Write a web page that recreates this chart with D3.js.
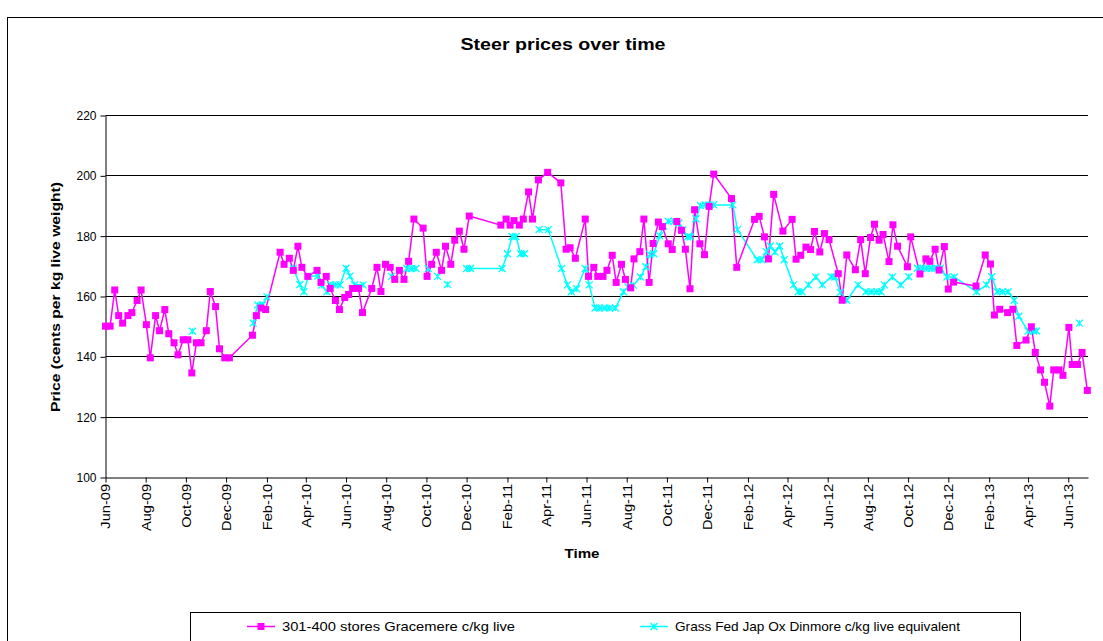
<!DOCTYPE html>
<html>
<head>
<meta charset="utf-8">
<script src="https://cdn.jsdelivr.net/npm/d3@7"></script>
<style>
  body { margin: 0; background: #fff; }
  text { font-family: "Liberation Sans", Arial, sans-serif; fill: #000; }
</style>
</head>
<body>
<div id="chart"></div>
<script>
// 301-400 stores Gracemere c/kg live
var gracemere = [
  ["2009-06-01",150],["2009-06-08",150],["2009-06-15",162],["2009-06-21",153.5],["2009-06-27",151],
  ["2009-07-05",153.5],["2009-07-11",154.5],["2009-07-19",158.5],["2009-07-25",162],["2009-08-02",150.5],
  ["2009-08-08",139.5],["2009-08-16",153.5],["2009-08-22",148.5],["2009-08-30",155.5],["2009-09-05",147.5],
  ["2009-09-13",144.5],["2009-09-19",140.5],["2009-09-27",145.5],["2009-10-04",145.5],["2009-10-10",134.5],
  ["2009-10-17",144.5],["2009-10-24",144.5],["2009-11-01",148.5],["2009-11-07",161.5],["2009-11-15",156.5],
  ["2009-11-21",142.5],["2009-11-29",139.5],["2009-12-06",139.5],
  ["2010-01-10",147],["2010-01-16",153.5],["2010-01-23",156],["2010-01-30",155.5],["2010-02-21",174.5],
  ["2010-02-27",170.5],["2010-03-07",172.5],["2010-03-13",168.5],["2010-03-20",176.5],["2010-03-26",169.5],
  ["2010-04-04",166.5],["2010-04-18",168.5],["2010-04-24",164.5],["2010-05-02",166.5],["2010-05-08",162.5],
  ["2010-05-16",158.5],["2010-05-22",155.5],["2010-05-30",159.5],["2010-06-05",160.5],["2010-06-11",162.5],
  ["2010-06-20",162.5],["2010-06-26",154.5],["2010-07-10",162.5],["2010-07-18",169.5],["2010-07-24",161.5],
  ["2010-07-31",170.5],["2010-08-07",169.5],["2010-08-14",165.5],["2010-08-21",168.5],["2010-08-28",165.5],
  ["2010-09-04",171.5],["2010-09-12",185.5],["2010-09-26",182.5],["2010-10-02",166.5],["2010-10-09",170.5],
  ["2010-10-16",174.5],["2010-10-24",168.5],["2010-10-30",176.5],["2010-11-07",170.5],["2010-11-13",178.5],
  ["2010-11-20",181.5],["2010-11-27",175.5],["2010-12-05",186.5],
  ["2011-01-22",183.5],["2011-01-30",185.5],["2011-02-05",183.5],["2011-02-11",185],["2011-02-19",183.5],
  ["2011-02-25",185.5],["2011-03-05",194.5],["2011-03-11",185.5],["2011-03-20",198.5],["2011-04-03",201],
  ["2011-04-23",197.5],["2011-05-01",175.5],["2011-05-07",176],["2011-05-15",172.5],["2011-05-30",185.5],
  ["2011-06-04",166.5],["2011-06-12",169.5],["2011-06-18",166.5],["2011-06-26",166.5],["2011-07-02",168.5],
  ["2011-07-10",173.5],["2011-07-16",164.5],["2011-07-24",170.5],["2011-07-30",165.5],["2011-08-07",162.7],
  ["2011-08-12",172.3],["2011-08-21",174.7],["2011-08-27",185.5],["2011-09-04",164.5],["2011-09-10",177.4],
  ["2011-09-18",184.5],["2011-09-24",183],["2011-10-03",177.3],["2011-10-09",175.4],["2011-10-16",184.7],
  ["2011-10-23",181.8],["2011-10-29",175.5],["2011-11-05",162.4],["2011-11-12",188.6],["2011-11-20",177.3],
  ["2011-11-27",173.7],["2011-12-04",189.7],["2011-12-11",200.4],
  ["2012-01-07",192.3],["2012-01-15",169.5],["2012-02-11",185.4],["2012-02-18",186.4],["2012-02-26",179.6],
  ["2012-03-03",172.3],["2012-03-11",193.7],["2012-03-25",181.5],["2012-04-08",185.4],["2012-04-14",172.2],
  ["2012-04-21",173.5],["2012-04-29",176.2],["2012-05-06",175.4],["2012-05-12",181.4],["2012-05-20",174.6],
  ["2012-05-27",180.7],["2012-06-03",178.7],["2012-06-17",167.4],["2012-06-23",158.6],["2012-06-30",173.6],
  ["2012-07-13",168.7],["2012-07-21",178.7],["2012-07-28",167.4],["2012-08-05",179.4],["2012-08-11",183.8],
  ["2012-08-18",178.5],["2012-08-24",180.4],["2012-09-02",171.4],["2012-09-08",183.6],["2012-09-15",176.5],
  ["2012-09-30",169.7],["2012-10-05",179.6],["2012-10-19",167.3],["2012-10-28",172.3],["2012-11-03",171.5],
  ["2012-11-11",175.5],["2012-11-17",168.6],["2012-11-25",176.4],["2012-12-01",162.3],["2012-12-09",164.6],
  ["2013-01-12",163.3],["2013-01-26",173.6],["2013-02-03",170.6],["2013-02-09",153.7],["2013-02-17",155.6],
  ["2013-03-01",154.5],["2013-03-09",155.6],["2013-03-15",143.6],["2013-03-29",145.4],["2013-04-06",149.8],
  ["2013-04-12",141.3],["2013-04-20",135.5],["2013-04-26",131.4],["2013-05-04",123.5],["2013-05-10",135.5],
  ["2013-05-18",135.5],["2013-05-24",133.7],["2013-06-02",149.6],["2013-06-07",137.3],["2013-06-15",137.3],
  ["2013-06-22",141.3],["2013-06-30",128.7]
]

// Grass Fed Jap Ox Dinmore c/kg live equivalent (null = no price, line breaks)
var dinmore = [
  ["2009-10-11",148.3], null,
  ["2010-01-11",151],["2010-01-18",157],["2010-01-25",157],["2010-02-01",159.7], null,
  ["2010-03-13",169.2],["2010-03-23",163.8],["2010-03-29",161.4],["2010-04-05",166.6],["2010-04-19",166.6],
  ["2010-04-25",163.6],["2010-05-03",161.4],["2010-05-09",163.7],["2010-05-16",163.7],["2010-05-23",163.7],
  ["2010-06-01",169.2],["2010-06-07",166.6],["2010-06-14",163.7],["2010-06-27",163.7], null,
  ["2010-08-09",166.5], null,
  ["2010-09-01",169.1],["2010-09-08",169.1],["2010-09-15",169.1], null,
  ["2010-10-04",169.1], null, ["2010-10-18",166.5], null, ["2010-11-02",163.8], null,
  ["2010-12-01",169.1],["2010-12-07",169.1],["2011-01-24",169.1],["2011-02-01",174],["2011-02-08",179.7],
  ["2011-02-14",179.7],["2011-02-21",174],["2011-02-27",174], null,
  ["2011-03-21",182],["2011-04-04",182],["2011-04-24",169.1],["2011-05-03",163.7],["2011-05-09",161.4],
  ["2011-05-17",162.4],["2011-05-30",169.1],["2011-06-05",163.7],["2011-06-14",156],["2011-06-21",156],
  ["2011-06-29",156],["2011-07-06",156],["2011-07-15",156],["2011-07-27",161.4],["2011-08-03",163],
  ["2011-08-11",163.6],["2011-08-22",166.3],["2011-08-30",169.7],["2011-09-05",173.8],["2011-09-11",174],
  ["2011-09-20",180],["2011-09-26",183.2],["2011-10-03",184.8],["2011-10-12",184.8],["2011-10-19",184.2],
  ["2011-10-25",181.9],["2011-11-01",179.6],["2011-11-06",179.6],["2011-11-14",185.6],["2011-11-21",190],
  ["2011-11-28",190.2],["2011-12-04",190.2],["2011-12-11",190.2],["2012-01-09",190.2],["2012-01-16",182],
  ["2012-02-15",172],["2012-02-22",172],["2012-02-29",174.7],["2012-03-06",176.6],["2012-03-13",174.6],
  ["2012-03-20",176.6],["2012-03-27",172],["2012-04-10",163.7],["2012-04-17",161.4],["2012-04-23",161.4],
  ["2012-05-03",163.7],["2012-05-14",166.3],["2012-05-24",163.7],["2012-06-06",166.4],["2012-06-12",166.3],
  ["2012-06-20",161.2],["2012-06-30",158.6],["2012-07-17",163.7],["2012-07-29",161.4],["2012-08-06",161.4],
  ["2012-08-14",161.4],["2012-08-21",161.4],["2012-08-26",163.7],["2012-09-07",166.3],["2012-09-20",163.7],
  ["2012-10-02",166.4], null,
  ["2012-10-15",169.2],["2012-10-22",169.2],["2012-10-29",169.2],["2012-11-05",169.2],["2012-11-11",169.2],
  ["2012-11-19",169.2],["2012-11-29",166.3],["2012-12-10",166.3],["2013-01-13",161.4],["2013-01-28",163.7],
  ["2013-02-05",166.4],["2013-02-13",161.4],["2013-02-21",161.4],["2013-03-02",161.4],["2013-03-11",158.6],
  ["2013-03-18",153.3],["2013-04-01",148.4],["2013-04-09",148.4],["2013-04-14",148.4], null,
  ["2013-06-18",151]
]

var xTicks = ["2009-06-01","2009-08-01","2009-10-01","2009-12-01","2010-02-01","2010-04-01","2010-06-01",
  "2010-08-01","2010-10-01","2010-12-01","2011-02-01","2011-04-01","2011-06-01","2011-08-01","2011-10-01",
  "2011-12-01","2012-02-01","2012-04-01","2012-06-01","2012-08-01","2012-10-01","2012-12-01","2013-02-01",
  "2013-04-01","2013-06-01"]
var yTicks = [100, 120, 140, 160, 180, 200, 220]
var seriesNames = ["301-400 stores Gracemere c/kg live", "Grass Fed Jap Ox Dinmore c/kg live equivalent"]

var width = 1103, height = 641
var parse = d3.timeParse("%Y-%m-%d")
var fmt = d3.timeFormat("%b-%y")

var svg = d3.select("#chart").append("svg")
  .attr("width", width)
  .attr("height", height)

svg.append("rect").attr("width", width).attr("height", height).attr("fill", "#fff")
// chart area border
svg.append("rect")
  .attr("x", 7.5).attr("y", 17.5).attr("width", 1110).attr("height", 640)
  .attr("fill", "none").attr("stroke", "#000")

var x = d3.scaleTime()
  .domain([parse("2009-06-01"), parse("2013-07-01")])
  .range([105.5, 1088])
var y = d3.scaleLinear().domain([100, 220]).range([477, 115])

// gridlines
svg.append("g").selectAll("line").data(yTicks.slice(1)).enter().append("line")
  .attr("x1", 105.5).attr("x2", 1088)
  .attr("y1", d => Math.round(y(d)) + 0.5).attr("y2", d => Math.round(y(d)) + 0.5)
  .attr("stroke", "#000").attr("stroke-width", 1)

// y axis
var yAxis = svg.append("g")
  .attr("transform", "translate(105.5,0.5)")
  .call(d3.axisLeft(y).tickValues(yTicks).tickSize(5).tickSizeOuter(0).tickPadding(4))
yAxis.select(".domain").attr("stroke", "#000")
yAxis.selectAll("text").style("font-size", "12px").attr("fill", "#000")

// x axis, labels stretched along their length like the original
var xAxis = svg.append("g")
  .attr("transform", "translate(0,477.5)")
  .call(d3.axisBottom(x).tickValues(xTicks.map(parse)).tickFormat(fmt).tickSize(5).tickSizeOuter(0))
xAxis.select(".domain").attr("stroke", "#000")
xAxis.selectAll("text")
  .style("font-size", "12.5px")
  .attr("text-anchor", "end")
  .attr("transform", "rotate(-90) scale(1.17,1)")
  .attr("x", -5.5).attr("y", 0).attr("dy", "0.35em")

var gData = gracemere.map(d => ({date: parse(d[0]), value: d[1]}))
var dData = dinmore.map(d => d === null ? null : {date: parse(d[0]), value: d[1]})

var line = d3.line()
  .defined(d => d !== null)
  .x(d => x(d.date))
  .y(d => y(d.value))

svg.append("path").datum(dData)
  .attr("d", line).attr("fill", "none")
  .attr("stroke", "#00FFFF").attr("stroke-width", 1.5)

svg.append("path").datum(gData)
  .attr("d", line).attr("fill", "none")
  .attr("stroke", "#FF00FF").attr("stroke-width", 1.5)

function star(sel) {
  sel.append("path")
    .attr("d", "M-3.5,-3.5L3.5,3.5M-3.5,3.5L3.5,-3.5M0,-3L0,3")
    .attr("stroke", "#00FFFF").attr("stroke-width", 1.3).attr("fill", "none")
}

svg.append("g").selectAll("g").data(dData.filter(d => d !== null)).enter().append("g")
  .attr("transform", d => `translate(${x(d.date)},${y(d.value)})`)
  .call(star)

svg.append("g").selectAll("rect").data(gData).enter().append("rect")
  .attr("x", d => x(d.date) - 3.5).attr("y", d => y(d.value) - 3.5)
  .attr("width", 7).attr("height", 7)
  .attr("fill", "#FF00FF")

// titles
svg.append("text")
  .attr("x", 563).attr("y", 50)
  .attr("text-anchor", "middle")
  .attr("textLength", 205).attr("lengthAdjust", "spacingAndGlyphs")
  .style("font-size", "17px").style("font-weight", "bold")
  .text("Steer prices over time")

svg.append("text")
  .attr("transform", "translate(60,297) rotate(-90)")
  .attr("text-anchor", "middle")
  .attr("textLength", 230).attr("lengthAdjust", "spacingAndGlyphs")
  .style("font-size", "13.5px").style("font-weight", "bold")
  .text("Price (cents per kg live weight)")

svg.append("text")
  .attr("x", 582).attr("y", 558)
  .attr("text-anchor", "middle")
  .attr("textLength", 35).attr("lengthAdjust", "spacingAndGlyphs")
  .style("font-size", "13.5px").style("font-weight", "bold")
  .text("Time")

// legend
var legend = svg.append("g")
legend.append("rect")
  .attr("x", 190.5).attr("y", 612.5).attr("width", 830).attr("height", 40)
  .attr("fill", "#fff").attr("stroke", "#000")

var lg0 = legend.append("g").attr("transform", "translate(247,626.5)")
lg0.append("line").attr("x1", 0).attr("x2", 28).attr("stroke", "#FF00FF").attr("stroke-width", 1.5)
lg0.append("rect").attr("x", 10.5).attr("y", -3.5).attr("width", 7).attr("height", 7).attr("fill", "#FF00FF")
lg0.append("text").attr("x", 35).attr("dy", "0.35em")
  .attr("textLength", 233).attr("lengthAdjust", "spacingAndGlyphs")
  .style("font-size", "13px").text(seriesNames[0])

var lg1 = legend.append("g").attr("transform", "translate(640,626.5)")
lg1.append("line").attr("x1", 0).attr("x2", 28).attr("stroke", "#00FFFF").attr("stroke-width", 1.5)
lg1.append("g").attr("transform", "translate(14,0)").call(star)
lg1.append("text").attr("x", 35).attr("dy", "0.35em")
  .attr("textLength", 285).attr("lengthAdjust", "spacingAndGlyphs")
  .style("font-size", "13px").text(seriesNames[1])
</script>
</body>
</html>
